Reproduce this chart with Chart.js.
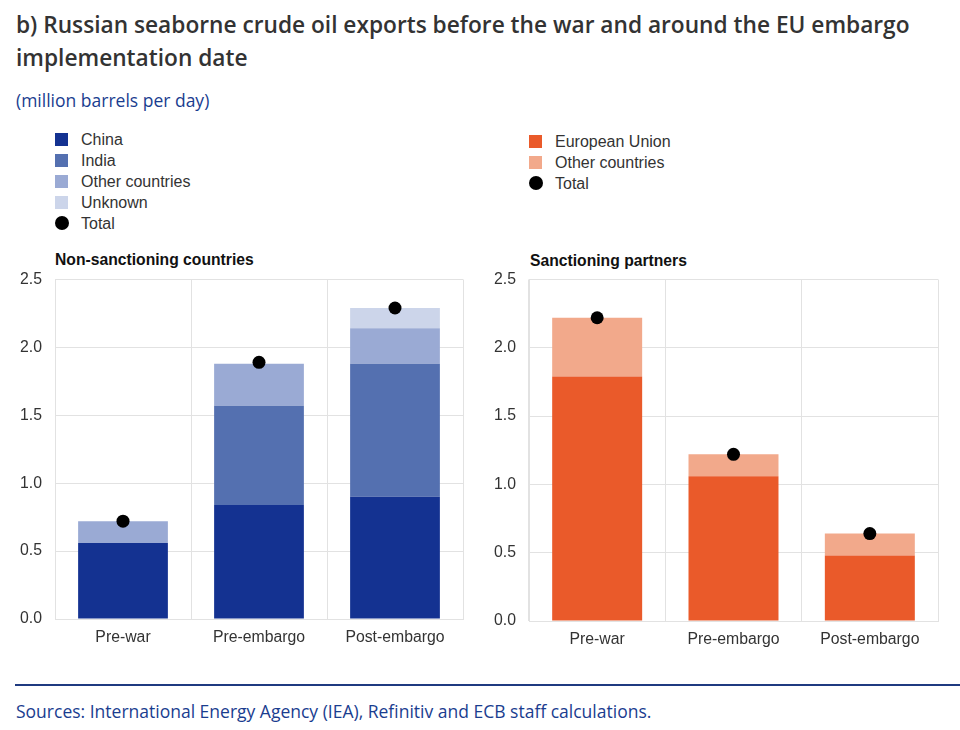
<!DOCTYPE html>
<html>
<head>
<meta charset="utf-8">
<script src="https://cdn.jsdelivr.net/npm/chart.js@4.4.0/dist/chart.umd.min.js"></script>
<style>
  body { margin: 0; background: #fff; width: 960px; height: 730px; position: relative; overflow: hidden; font-family: "Liberation Sans", Arial, sans-serif; }
  .abs { position: absolute; }
  #title { left: 16px; top: 8px; width: 940px; font-family: "Open Sans", sans-serif; font-weight: 600; font-size: 22.7px; line-height: 33px; color: #333; }
  #unit { left: 16px; top: 88px; font-family: "Open Sans", sans-serif; font-size: 17.5px; color: #1a3d8f; }
  .legend { font-size: 16px; color: #333; }
  .legend div { height: 21px; line-height: 21px; position: relative; padding-left: 26px; }
  .legend span.sw { position: absolute; left: 0; top: 4px; width: 13px; height: 13px; }
  .legend span.dot { position: absolute; left: 0; top: 3px; width: 14px; height: 14px; border-radius: 50%; background: #000; }
  .panel-title { font-weight: bold; font-size: 15.7px; color: #111; }
  #rule { left: 15px; top: 684px; width: 945px; height: 2px; background: #1f3a80; }
  #src { left: 16px; top: 699px; font-family: "Open Sans", sans-serif; font-size: 17.5px; color: #1a3d8f; }
</style>
</head>
<body>
<div id="title" class="abs">b) Russian seaborne crude oil exports before the war and around the EU embargo implementation date</div>
<div id="unit" class="abs">(million barrels per day)</div>

<div class="abs legend" style="left:55px; top:129px;">
  <div><span class="sw" style="background:#143291"></span>China</div>
  <div><span class="sw" style="background:#5470b0"></span>India</div>
  <div><span class="sw" style="background:#9aaad4"></span>Other countries</div>
  <div><span class="sw" style="background:#ccd5ea"></span>Unknown</div>
  <div><span class="dot"></span>Total</div>
</div>
<div class="abs legend" style="left:529px; top:131px;">
  <div><span class="sw" style="background:#ea5a2a"></span>European Union</div>
  <div><span class="sw" style="background:#f2a98b"></span>Other countries</div>
  <div><span class="dot"></span>Total</div>
</div>

<div class="abs panel-title" style="left:55px; top:251px;">Non-sanctioning countries</div>
<div class="abs panel-title" style="left:530px; top:252px;">Sanctioning partners</div>

<div class="abs" style="left:0; top:257px; width:475px; height:394px;"><canvas id="left"></canvas></div>
<div class="abs" style="left:474px; top:257px; width:476px; height:396px;"><canvas id="right"></canvas></div>

<div id="rule" class="abs"></div>
<div id="src" class="abs">Sources: International Energy Agency (IEA), Refinitiv and ECB staff calculations.</div>

<script>
var categories = ["Pre-war", "Pre-embargo", "Post-embargo"];

// non-sanctioning countries
var china = [0.56, 0.84, 0.90];
var india = [0.00, 0.73, 0.98];
var otherNonSanc = [0.16, 0.31, 0.26];
var unknown = [0.00, 0.00, 0.15];
var totalNonSanc = [0.72, 1.89, 2.29];

// sanctioning partners
var eu = [1.79, 1.06, 0.48];
var otherSanc = [0.43, 0.16, 0.16];
var totalSanc = [2.22, 1.22, 0.64];

var yTicks = [0, 0.5, 1.0, 1.5, 2.0, 2.5];
var gridColor = "#e2e2e2";

function barSet(label, data, color){
    return {
        type: 'bar',
        label: label,
        data: data,
        backgroundColor: color,
        borderWidth: 0,
        stack: 'bars',
        barPercentage: 0.66,
        categoryPercentage: 1.0,
        order: 2
    };
}

function totalSet(data){
    return {
        type: 'line',
        label: 'Total',
        data: data,
        showLine: false,
        pointRadius: 6.5,
        pointBackgroundColor: '#000',
        pointBorderWidth: 0,
        stack: 'total',
        order: 1
    };
}

function make_chart(id, datasets, yWidth){
    new Chart(document.getElementById(id), {
        type: 'bar',
        data: { labels: categories, datasets: datasets },
        options: {
            responsive: true,
            maintainAspectRatio: false,
            animation: false,
            layout: { padding: { top: 0, right: 12, bottom: 4, left: 0 } },
            plugins: { legend: { display: false }, tooltip: { enabled: false } },
            scales: {
                x: {
                    stacked: true,
                    grid: { color: gridColor, drawTicks: false, offset: true },
                    border: { color: gridColor },
                    ticks: { color: '#333', padding: 9, font: { family: 'Liberation Sans', size: 15.8 } },
                    afterFit: function(s){ s.height = 28; }
                },
                y: {
                    stacked: true,
                    min: 0,
                    max: 2.5,
                    afterBuildTicks: function(s){ s.ticks = yTicks.map(function(v){ return { value: v }; }); },
                    grid: { color: gridColor, drawTicks: false },
                    border: { color: gridColor },
                    ticks: {
                        color: '#333',
                        padding: 13,
                        font: { family: 'Liberation Sans', size: 15.8 },
                        callback: function(v){ return Number(v).toFixed(1); }
                    },
                    afterFit: function(s){ s.width = yWidth; }
                }
            }
        }
    });
}

make_chart('left', [
    barSet('China', china, '#143291'),
    barSet('India', india, '#5470b0'),
    barSet('Other countries', otherNonSanc, '#9aaad4'),
    barSet('Unknown', unknown, '#ccd5ea'),
    totalSet(totalNonSanc)
], 55);

make_chart('right', [
    barSet('European Union', eu, '#ea5a2a'),
    barSet('Other countries', otherSanc, '#f2a98b'),
    totalSet(totalSanc)
], 55);
</script>
</body>
</html>
